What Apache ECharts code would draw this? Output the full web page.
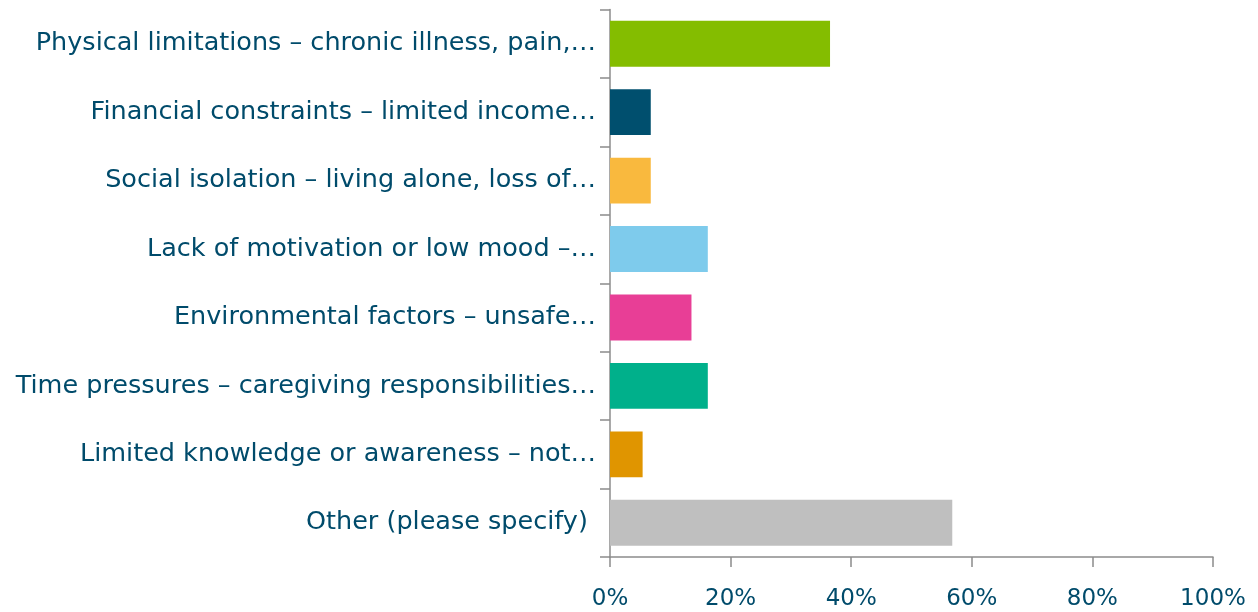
<!DOCTYPE html>
<html><head><meta charset="utf-8">
<script src="https://cdn.jsdelivr.net/npm/echarts@6/dist/echarts.min.js"></script>
<style>html,body{margin:0;padding:0;background:#fff}#c{width:1258px;height:612px}</style>
</head><body><div id="c"></div>
<script>
const categories = [
  "Physical limitations – chronic illness, pain,…",
  "Financial constraints – limited income…",
  "Social isolation – living alone, loss of…",
  "Lack of motivation or low mood –…",
  "Environmental factors – unsafe…",
  "Time pressures – caregiving responsibilities…",
  "Limited knowledge or awareness – not…",
  "Other (please specify) "
];
const values = [36.49, 6.76, 6.76, 16.22, 13.51, 16.22, 5.41, 56.76];
const colors = ["#84bd00", "#004f6e", "#f9b93e", "#7ecbec", "#e83e96", "#00b08b", "#e09500", "#bfbfbf"];
const xTicks = [0, 20, 40, 60, 80, 100];

const chart = echarts.init(document.getElementById('c'));
const textColor = '#004b6b';
const axisColor = '#8c8c8c';
const font = 'DejaVu Sans';
chart.setOption({
  animation: false,
  grid: {left: 610, right: 45, top: 9.5, bottom: 55},
  xAxis: {
    type: 'value', min: xTicks[0], max: xTicks[xTicks.length-1], interval: 20,
    axisLine: {show: true, lineStyle: {color: axisColor, width: 1.5}},
    axisTick: {show: true, length: 10, lineStyle: {color: axisColor, width: 1.5}},
    splitLine: {show: false},
    axisLabel: {formatter: v => v + '%', color: textColor, fontSize: 23, margin: 31, fontFamily: font}
  },
  yAxis: {
    type: 'category', data: categories, inverse: true,
    axisLine: {show: true, lineStyle: {color: axisColor, width: 1.5}},
    axisTick: {show: true, length: 10, lineStyle: {color: axisColor, width: 1.5}},
    axisLabel: {color: textColor, fontSize: 25.5, margin: 14, fontFamily: font}
  },
  series: [{
    type: 'bar',
    data: values.map((v, i) => ({value: v, itemStyle: {color: colors[i]}})),
    barCategoryGap: '33%'
  }]
});
</script></body></html>
